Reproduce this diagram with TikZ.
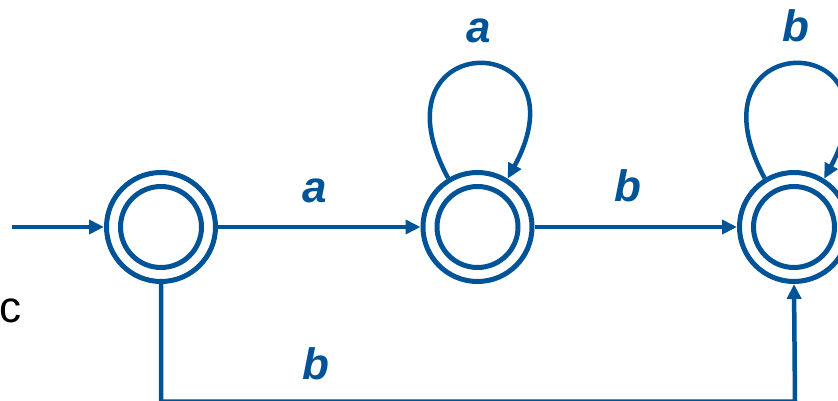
\documentclass[tikz,border=0pt]{standalone}
\usepackage{fontspec}
\setmainfont{Liberation Sans}
\usetikzlibrary{arrows.meta}
\definecolor{dfablue}{RGB}{0,83,150}
\tikzset{
  state/.style={circle, draw=dfablue, line width=5pt, minimum size=109pt, inner sep=0pt,
    path picture={\draw[dfablue, line width=5pt] (path picture bounding box.center) circle (40.5pt);}},
  edge/.style={draw=dfablue, line width=4.5pt, -{Triangle[length=15pt,width=14pt]}},
  lbl/.style={text=dfablue, font=\fontsize{44}{44}\selectfont\bfseries\itshape, inner sep=0pt},
}
\begin{document}
\begin{tikzpicture}[x=1pt,y=-1pt]
\useasboundingbox (0,0) rectangle (838,401);
\node[state] (s1) at (161,227) {};
\node[state] (s2) at (477.5,227) {};
\node[state] (s3) at (794,227) {};
\coordinate (start) at (12,227);
\coordinate (bl) at (161,401.5);
\coordinate (br) at (795,401.5);
\draw[edge] (start) -- (s1);
\draw[edge] (s1) -- (s2);
\draw[edge] (s2) -- (s3);
\draw[edge] (s1.south) -- (bl) -- (br) -- (s3.south);
\draw[edge] (s2.121) .. controls +(-82,-152) and +(82,-152) .. (s2.58);
\draw[edge] (s3.121) .. controls +(-82,-152) and +(82,-152) .. (s3.58);
\node[lbl] (la1) at (315,191) {a};
\node[lbl] (lb1) at (628,186) {b};
\node[lbl] (la2) at (479,31) {a};
\node[lbl] (lb2) at (796,26) {b};
\node[lbl] (lb3) at (316,364) {b};
\node[font=\fontsize{44}{44}\selectfont, inner sep=0pt, anchor=west] (c) at (-1,311) {c};
\end{tikzpicture}
\end{document}
